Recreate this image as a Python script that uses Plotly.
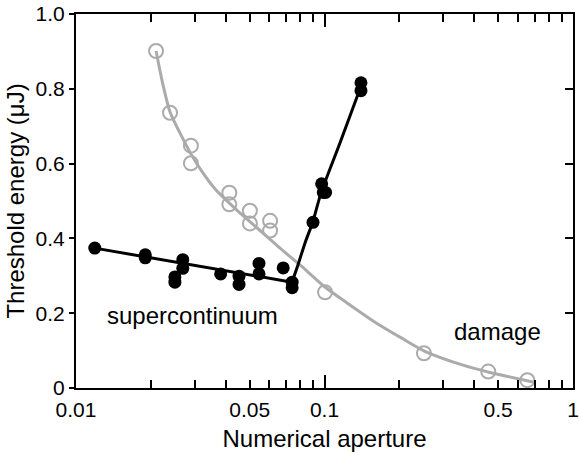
import math
import plotly.graph_objects as go

# Supercontinuum threshold (filled markers)
sc_na = [0.0119, 0.0190, 0.0190, 0.0250, 0.0250, 0.0269, 0.0269, 0.0382,
         0.0453, 0.0453, 0.0545, 0.0545, 0.0682, 0.0741, 0.0741,
         0.0899, 0.0974, 0.0989, 0.1010, 0.1402, 0.1402]
sc_energy = [0.374, 0.356, 0.348, 0.297, 0.283, 0.343, 0.320, 0.305,
             0.299, 0.277, 0.333, 0.305, 0.321, 0.283, 0.268,
             0.443, 0.546, 0.523, 0.523, 0.816, 0.795]

# Fitted trend for the supercontinuum threshold (two branches)
sc_fit_low_na = [0.0119, 0.0740]
sc_fit_low_energy = [0.374, 0.283]
sc_fit_high_na = [0.0740, 0.0782, 0.0835, 0.0897, 0.0968, 0.1154, 0.1402]
sc_fit_high_energy = [0.283, 0.329, 0.388, 0.444, 0.521, 0.655, 0.807]

# Damage threshold (open markers)
dm_na = [0.0210, 0.0239, 0.0290, 0.0290, 0.0414, 0.0414, 0.0501, 0.0501,
         0.0604, 0.0604, 0.1005, 0.2513, 0.4560, 0.6550]
dm_energy = [0.901, 0.736, 0.648, 0.601, 0.522, 0.491, 0.474, 0.440,
             0.447, 0.421, 0.256, 0.093, 0.044, 0.021]

# Fitted trend for the damage threshold
dm_fit_na = [0.0210, 0.0224, 0.0239, 0.0262, 0.0290, 0.0316, 0.0363, 0.0457,
             0.0587, 0.0662, 0.0797, 0.1004, 0.1266, 0.1597, 0.2013, 0.2537,
             0.3609, 0.4550, 0.6900]
dm_fit_energy = [0.901, 0.810, 0.738, 0.682, 0.626, 0.586, 0.532, 0.468,
                 0.405, 0.374, 0.329, 0.270, 0.222, 0.176, 0.136, 0.098,
                 0.061, 0.043, 0.016]

# Curve labels and where they sit (NA, energy)
labels = ["supercontinuum", "damage"]
label_na = [0.0293, 0.499]
label_energy = [0.195, 0.150]

x_tickvals = [0.01, 0.05, 0.1, 0.5, 1]
x_ticktext = ["0.01", "0.05", "0.1", "0.5", "1"]
x_minor = [0.02, 0.03, 0.04, 0.06, 0.07, 0.08, 0.09,
           0.2, 0.3, 0.4, 0.6, 0.7, 0.8, 0.9]
x_decades = [0.01, 0.1, 1]
y_tickvals = [0, 0.2, 0.4, 0.6, 0.8, 1.0]
y_ticktext = ["0", "0.2", "0.4", "0.6", "0.8", "1.0"]

FONT = "Liberation Sans, Arial, sans-serif"
GREY = "#ababab"

fig = go.Figure()

fig.add_trace(go.Scatter(x=dm_fit_na, y=dm_fit_energy, mode="lines",
                         line=dict(color=GREY, width=3, shape="spline", smoothing=0.8),
                         hoverinfo="skip", showlegend=False))
fig.add_trace(go.Scatter(x=dm_na, y=dm_energy, mode="markers",
                         marker=dict(symbol="circle-open", size=14, color=GREY,
                                     line=dict(width=2, color=GREY)),
                         showlegend=False))
fig.add_trace(go.Scatter(x=sc_fit_low_na, y=sc_fit_low_energy, mode="lines",
                         line=dict(color="black", width=3),
                         hoverinfo="skip", showlegend=False))
fig.add_trace(go.Scatter(x=sc_fit_high_na, y=sc_fit_high_energy, mode="lines",
                         line=dict(color="black", width=3, shape="spline", smoothing=0.8),
                         hoverinfo="skip", showlegend=False))
fig.add_trace(go.Scatter(x=sc_na, y=sc_energy, mode="markers",
                         marker=dict(symbol="circle", size=13, color="black"),
                         showlegend=False))
# Empty trace that anchors the overlay axes used for the extra tick marks
fig.add_trace(go.Scatter(x=[], y=[], xaxis="x2", yaxis="y2",
                         showlegend=False, hoverinfo="skip"))

# Annotations on a log axis take log10 positions
for text, na, en in zip(labels, label_na, label_energy):
    fig.add_annotation(x=math.log10(na), y=en, xref="x", yref="y", text=text,
                       showarrow=False, font=dict(family=FONT, size=24, color="black"))

fig.update_layout(
    width=579, height=453,
    margin=dict(l=76, r=6, t=14, b=65),
    paper_bgcolor="white", plot_bgcolor="white",
    font=dict(family=FONT, size=21, color="black"),
    xaxis=dict(
        type="log", range=[-2, 0], automargin=False,
        tickvals=x_tickvals, ticktext=x_ticktext,
        ticks="inside", ticklen=8, tickwidth=2, tickcolor="black",
        ticklabelstandoff=2,
        minor=dict(tickvals=x_minor, ticks="inside", ticklen=8, tickwidth=2,
                   tickcolor="black", showgrid=False),
        showline=True, linecolor="black", linewidth=2, mirror="ticks",
        showgrid=False, zeroline=False,
        tickfont=dict(size=21),
        title=dict(text="Numerical aperture", font=dict(size=24), standoff=10),
    ),
    yaxis=dict(
        range=[0, 1], automargin=False,
        tickvals=y_tickvals, ticktext=y_ticktext,
        ticks="outside", ticklen=5, tickwidth=2, tickcolor="black",
        showline=True, linecolor="black", linewidth=2, mirror=True,
        showgrid=False, zeroline=False,
        tickfont=dict(size=21),
        title=dict(text="Threshold energy (\u03bcJ)", font=dict(size=24), standoff=4),
    ),
    xaxis2=dict(
        type="log", range=[-2, 0], overlaying="x", anchor="y2", automargin=False,
        tickvals=x_decades, showticklabels=False,
        ticks="inside", ticklen=13, tickwidth=2, tickcolor="black",
        showline=False, mirror="ticks", showgrid=False, zeroline=False,
    ),
    yaxis2=dict(
        range=[0, 1], overlaying="y", side="right", anchor="x2", automargin=False,
        tickvals=y_tickvals, showticklabels=False,
        ticks="inside", ticklen=8, tickwidth=2, tickcolor="black",
        showline=False, showgrid=False, zeroline=False,
    ),
)

fig.write_html("out.html")
